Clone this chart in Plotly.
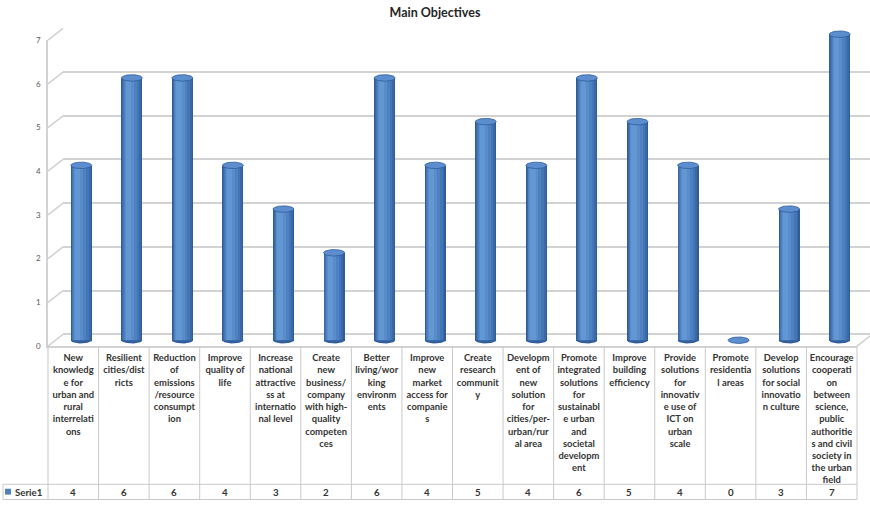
import numpy as np
import plotly.graph_objects as go

# ---- data -------------------------------------------------------------
TITLE = "Main Objectives"
SERIES_NAME = "Serie1"

# objective names, split the way the data table wraps them
category_lines = [
    ["New", "knowledg", "e for", "urban and", "rural", "interrelati", "ons"],
    ["Resilient", "cities/dist", "ricts"],
    ["Reduction", "of", "emissions", "/resource", "consumpt", "ion"],
    ["Improve", "quality of", "life"],
    ["Increase", "national", "attractive", "ss at", "internatio", "nal level"],
    ["Create", "new", "business/", "company", "with high-", "quality", "competen", "ces"],
    ["Better", "living/wor", "king", "environm", "ents"],
    ["Improve", "new", "market", "access for", "companie", "s"],
    ["Create", "research", "communit", "y"],
    ["Developm", "ent of", "new", "solution", "for", "cities/per-", "urban/rur", "al area"],
    ["Promote", "integrated", "solutions", "for", "sustainabl", "e urban", "and", "societal", "developm", "ent"],
    ["Improve", "building", "efficiency"],
    ["Provide", "solutions", "for", "innovativ", "e use of", "ICT on", "urban", "scale"],
    ["Promote", "residentia", "l areas"],
    ["Develop", "solutions", "for social", "innovatio", "n culture"],
    ["Encourage", "cooperati", "on", "between", "science,", "public", "authoritie", "s and civil", "society in", "the urban", "field"],
]
values = [4, 6, 6, 4, 3, 2, 6, 4, 5, 4, 6, 5, 4, 0, 3, 7]
y_ticks = [0, 1, 2, 3, 4, 5, 6, 7]

# ---- page geometry (pixels) -------------------------------------------
W, H = 870, 505
UNIT = 44.6                 # pixels per value unit on the walls
FRONT_L, FRONT_R = 48, 857  # front edge of floor / table
FLOOR_FRONT = 348           # y of the floor's front edge
DEPTH_X, DEPTH_Y = 15, 12   # perspective offset of the back wall
MID_X, MID_Y = 8, 6         # cylinders stand half-way into the depth
TABLE_SPLIT = 489
TABLE_BOTTOM = 504.5
KEY_LEFT = 3
Y_MAX = 7

GRID = "#d2d2d2"
TABLE_LINE = "#c9c9c9"
TEXT = "#333333"
FONT = "Lato"

n = len(values)
cats = list(range(n))


def px_x(p):
    return p / W


def px_y(p):
    return 1 - p / H


def y_domain(floor_px, lo, hi):
    return [px_y(floor_px - lo * UNIT), px_y(floor_px - hi * UNIT)]


fig = go.Figure()

# ---- cylinders ----------------------------------------------------------
BAR_W = 0.415
ELL_B = 3.3 / UNIT   # vertical half-axis of the cylinder ends
t = np.linspace(0, 2 * np.pi, 41)
tb = np.linspace(np.pi, 2 * np.pi, 21)

# rounded bottoms
bx, by = [], []
for i, v in zip(cats, values):
    if v <= 0:
        continue
    bx += list(i + BAR_W / 2 * np.cos(tb)) + [None]
    by += list(ELL_B * np.sin(tb)) + [None]
fig.add_trace(go.Scatter(x=bx, y=by, mode="lines", fill="toself",
                         fillcolor="#325f9c", line=dict(width=0),
                         xaxis="x2", yaxis="y2", hoverinfo="skip",
                         showlegend=False))

# body shading: nested bands, lighter towards the highlight
bands = [
    (0.00, 1.00, "#305d9a"),
    (0.04, 0.94, "#3a69a8"),
    (0.08, 0.85, "#4475b5"),
    (0.12, 0.74, "#4e81c1"),
    (0.16, 0.60, "#588ccb"),
    (0.21, 0.46, "#6297d3"),
]
for lo, hi, col in bands:
    centre = (lo + hi) / 2 * BAR_W - BAR_W / 2
    fig.add_trace(go.Bar(
        x=[c + centre for c in cats], y=values, width=(hi - lo) * BAR_W,
        marker=dict(color=col, line=dict(width=0)),
        xaxis="x2", yaxis="y2", name=SERIES_NAME, showlegend=False,
        hovertemplate="%{y}<extra></extra>",
    ))

# top caps
tx, ty = [], []
for i, v in zip(cats, values):
    tx += list(i + BAR_W / 2 * np.cos(t)) + [None]
    ty += list(v + ELL_B * np.sin(t)) + [None]
fig.add_trace(go.Scatter(x=tx, y=ty, mode="lines", fill="toself",
                         fillcolor="#5c8dce", line=dict(color="#305d9a", width=0.8),
                         xaxis="x2", yaxis="y2", hoverinfo="skip",
                         showlegend=False))

# anchor traces so the wall and table subplots exist
fig.add_trace(go.Scatter(x=[None], y=[None], xaxis="x", yaxis="y", showlegend=False))
fig.add_trace(go.Scatter(x=[None], y=[None], xaxis="x3", yaxis="y3", showlegend=False))

# ---- axes ---------------------------------------------------------------
back_floor = FLOOR_FRONT - DEPTH_Y
bar_floor = FLOOR_FRONT - MID_Y

fig.update_layout(
    width=W, height=H,
    margin=dict(l=0, r=0, t=0, b=0),
    paper_bgcolor="white", plot_bgcolor="rgba(0,0,0,0)",
    barmode="overlay", bargap=0,
    showlegend=False,
    font=dict(family=FONT, color=TEXT),
    title=dict(text="<b>" + TITLE + "</b>", x=px_x(435), xanchor="center",
               y=px_y(13), yanchor="middle", yref="container",
               font=dict(family=FONT, size=12.5, color="#262626")),
    # back wall with gridlines
    xaxis=dict(domain=[px_x(FRONT_L + DEPTH_X), 1], range=[-0.5, n - 0.5],
               visible=False, anchor="y"),
    yaxis=dict(domain=y_domain(back_floor, 0, Y_MAX), range=[0, Y_MAX],
               anchor="x", tickvals=y_ticks, showticklabels=False,
               showgrid=True, gridcolor=GRID, gridwidth=1.6,
               zeroline=True, zerolinecolor=GRID, zerolinewidth=1.6,
               showline=False, ticks=""),
    # cylinders, half-way into the depth
    xaxis2=dict(domain=[px_x(FRONT_L + MID_X), px_x(FRONT_R + MID_X)],
                range=[-0.5, n - 0.5], visible=False, anchor="y2"),
    yaxis2=dict(domain=y_domain(bar_floor, -0.3, Y_MAX + 0.4),
                range=[-0.3, Y_MAX + 0.4], visible=False, anchor="x2"),
    # front edge: value labels on the left, objective names under the floor
    xaxis3=dict(domain=[px_x(FRONT_L), px_x(FRONT_R)], range=[-0.5, n - 0.5],
                anchor="y3", showline=True, linecolor=GRID, linewidth=1.6,
                showgrid=False, zeroline=False, ticks="",
                tickvals=cats, ticktext=["<br>".join(l) for l in category_lines],
                tickfont=dict(family=FONT, size=9.4, color=TEXT, weight="bold"),
                tickangle=0, ticklabelstandoff=2),
    yaxis3=dict(domain=y_domain(FLOOR_FRONT, 0, Y_MAX), range=[0, Y_MAX],
                anchor="x3", showline=True, linecolor=GRID, linewidth=1.6,
                showgrid=False, zeroline=False, ticks="",
                tickvals=y_ticks, tickfont=dict(family=FONT, size=8, color="#595959"),
                ticklabelstandoff=4),
)

shapes = []
# side wall: diagonals from the front edge to the back wall at each tick
for v in y_ticks:
    shapes.append(dict(type="line", xref="paper", yref="paper",
                       x0=px_x(FRONT_L), y0=px_y(FLOOR_FRONT - v * UNIT),
                       x1=px_x(FRONT_L + DEPTH_X), y1=px_y(back_floor - v * UNIT),
                       line=dict(color=GRID, width=1.6)))
# floor: right-hand diagonal
shapes.append(dict(type="line", xref="paper", yref="paper",
                   x0=px_x(FRONT_R), y0=px_y(FLOOR_FRONT),
                   x1=px_x(FRONT_R + DEPTH_X), y1=px_y(back_floor),
                   line=dict(color=GRID, width=1.6)))

# data table grid
col_w = (FRONT_R - FRONT_L) / n
for k in range(n + 1):
    xk = FRONT_L + k * col_w
    shapes.append(dict(type="line", xref="paper", yref="paper",
                       x0=px_x(xk), y0=px_y(FLOOR_FRONT),
                       x1=px_x(xk), y1=px_y(TABLE_BOTTOM),
                       line=dict(color=TABLE_LINE, width=1)))
for yy in (TABLE_SPLIT, TABLE_BOTTOM):
    shapes.append(dict(type="line", xref="paper", yref="paper",
                       x0=px_x(KEY_LEFT), y0=px_y(yy),
                       x1=px_x(FRONT_R), y1=px_y(yy),
                       line=dict(color=TABLE_LINE, width=1)))
shapes.append(dict(type="line", xref="paper", yref="paper",
                   x0=px_x(KEY_LEFT), y0=px_y(TABLE_SPLIT),
                   x1=px_x(KEY_LEFT), y1=px_y(TABLE_BOTTOM),
                   line=dict(color=TABLE_LINE, width=1)))
# legend key swatch
shapes.append(dict(type="rect", xref="paper", yref="paper",
                   x0=px_x(5), y0=px_y(493.5), x1=px_x(11), y1=px_y(499.5),
                   fillcolor="#4f81bd", line=dict(width=0)))
fig.update_layout(shapes=shapes)

row_y = px_y((TABLE_SPLIT + TABLE_BOTTOM) / 2)
annotations = [dict(xref="paper", yref="paper", x=px_x(12.5), y=row_y,
                    xanchor="left", yanchor="middle", showarrow=False,
                    text="<b>" + SERIES_NAME + "</b>",
                    font=dict(family=FONT, size=9.7, color=TEXT))]
for i, v in zip(cats, values):
    annotations.append(dict(xref="x3", yref="paper", x=i, y=row_y,
                            xanchor="center", yanchor="middle", showarrow=False,
                            text="<b>%d</b>" % v,
                            font=dict(family=FONT, size=9.7, color=TEXT)))
fig.update_layout(annotations=annotations)

fig.write_html("out.html")
